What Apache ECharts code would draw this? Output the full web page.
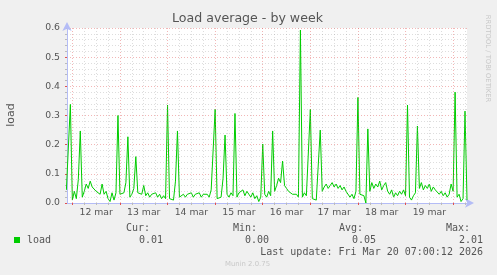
<!DOCTYPE html>
<html><head><meta charset="utf-8">
<script src="https://cdn.jsdelivr.net/npm/echarts@6/dist/echarts.min.js"></script>
<style>html,body{margin:0;padding:0;background:#f0f0f0}#c{width:497px;height:275px}</style>
</head><body><div id="c"></div>
<script>
// hours are counted from 12 mar 00:00, one value per hour
const startHour = -3;
const mar11 = [0.045, 0.045, 0.338];
const mar12 = [0.01, 0.04, 0.015, 0.08, 0.247, 0.02, 0.04, 0.065, 0.05, 0.075, 0.055, 0.06, 0.04, 0.045, 0.03, 0.065, 0.03, 0.04, 0.015, 0.005, 0.035, 0.01, 0.035, 0.30];
const mar13 = [0.03, 0.025, 0.035, 0.07, 0.227, 0.02, 0.03, 0.05, 0.159, 0.035, 0.04, 0.03, 0.06, 0.025, 0.035, 0.02, 0.03, 0.025, 0.035, 0.02, 0.03, 0.015, 0.025, 0.015];
const mar14 = [0.336, 0.015, 0.02, 0.01, 0.075, 0.247, 0.02, 0.025, 0.03, 0.02, 0.03, 0.025, 0.035, 0.02, 0.03, 0.025, 0.035, 0.02, 0.03, 0.025, 0.03, 0.02, 0.045, 0.04];
const mar15 = [0.321, 0.015, 0.01, 0.02, 0.085, 0.233, 0.03, 0.02, 0.035, 0.025, 0.307, 0.02, 0.035, 0.03, 0.045, 0.025, 0.04, 0.03, 0.02, 0.035, 0.015, 0.025, 0.005, 0.02];
const mar16 = [0.202, 0.03, 0.02, 0.04, 0.025, 0.247, 0.04, 0.06, 0.085, 0.07, 0.144, 0.06, 0.05, 0.04, 0.045, 0.03, 0.025, 0.03, 0.02, 0.593, 0.02, 0.035, 0.025, 0.03];
const mar17 = [0.321, 0.015, 0.02, 0.01, 0.015, 0.25, 0.04, 0.055, 0.065, 0.05, 0.06, 0.07, 0.055, 0.065, 0.05, 0.06, 0.045, 0.055, 0.04, 0.04, 0.02, 0.03, 0.015, 0.04];
const mar18 = [0.362, 0.03, 0.035, 0.025, 0.0, 0.254, 0.04, 0.07, 0.05, 0.065, 0.055, 0.075, 0.045, 0.06, 0.07, 0.04, 0.03, 0.045, 0.02, 0.035, 0.025, 0.04, 0.03, 0.045];
const mar19 = [0.025, 0.336, 0.02, 0.01, 0.025, 0.035, 0.264, 0.05, 0.07, 0.045, 0.06, 0.05, 0.065, 0.04, 0.055, 0.045, 0.05, 0.03, 0.04, 0.025, 0.035, 0.02, 0.03, 0.065];
const mar20 = [0.04, 0.38, 0.02, 0.03, 0.005, 0.015, 0.315, 0.01];

const dayLabels = ['12 mar', '13 mar', '14 mar', '15 mar', '16 mar', '17 mar', '18 mar', '19 mar'];
const midnights = [0, 24, 48, 72, 96, 120, 144, 168, 192];
const noons = [12, 36, 60, 84, 108, 132, 156, 180];
const minorHours = [6, 12, 18, 30, 36, 42, 54, 60, 66, 78, 84, 90, 102, 108, 114, 126, 132, 138, 150, 156, 162, 174, 180, 186, 198];
const yTicks = [0, 0.1, 0.2, 0.3, 0.4, 0.5, 0.6];

const legendHeaders = ['Cur:', 'Min:', 'Avg:', 'Max:'];
const legendValues = ['0.01', '0.00', '0.05', '2.01'];
const seriesName = 'load';
const lastUpdate = 'Last update: Fri Mar 20 07:00:12 2026';

const load = [].concat(mar11, mar12, mar13, mar14, mar15, mar16, mar17, mar18, mar19, mar20);
const points = load.map((v, i) => [startHour + i, v]);

const minorColor = 'rgba(150,150,150,0.32)';
const majorColor = 'rgba(225,80,80,0.42)';
const axisColor = '#b4bcf6';
const sans = 'DejaVu Sans';
const mono = 'DejaVu Sans Mono';

const chart = echarts.init(document.getElementById('c'), null, {renderer: 'canvas'});

const headerRight = [150, 257, 363, 470];
const valueRight = [163, 269, 376, 483];
const graphics = [
  {type: 'text', x: 247.5, y: 19, style: {text: 'Load average - by week', fontFamily: sans, fontSize: 12.6, fill: '#555', textAlign: 'center', textVerticalAlign: 'middle'}},
  {type: 'text', x: 10.7, y: 115, rotation: Math.PI / 2, style: {text: 'load', fontFamily: sans, fontSize: 11, fill: '#555', textAlign: 'center', textVerticalAlign: 'middle'}},
  {type: 'text', x: 487.7, y: 58.5, rotation: -Math.PI / 2, style: {text: 'RRDTOOL / TOBI OETIKER', fontFamily: sans, fontSize: 6.8, fill: '#c8c8c8', textAlign: 'center', textVerticalAlign: 'middle'}},
  {type: 'rect', shape: {x: 14, y: 237, width: 6, height: 6}, style: {fill: '#00cc00'}},
  {type: 'text', x: 27, y: 240, style: {text: seriesName, fontFamily: mono, fontSize: 10, fill: '#555', textAlign: 'left', textVerticalAlign: 'middle'}},
  {type: 'text', x: 483, y: 252, style: {text: lastUpdate, fontFamily: mono, fontSize: 10, fill: '#555', textAlign: 'right', textVerticalAlign: 'middle'}},
  {type: 'text', x: 247.5, y: 264, style: {text: 'Munin 2.0.75', fontFamily: sans, fontSize: 6.9, fill: '#c8c8c8', textAlign: 'center', textVerticalAlign: 'middle'}}
];
legendHeaders.forEach((t, i) => {
  graphics.push({type: 'text', x: headerRight[i], y: 228, style: {text: t, fontFamily: mono, fontSize: 10, fill: '#555', textAlign: 'right', textVerticalAlign: 'middle'}});
  graphics.push({type: 'text', x: valueRight[i], y: 240, style: {text: legendValues[i], fontFamily: mono, fontSize: 10, fill: '#555', textAlign: 'right', textVerticalAlign: 'middle'}});
});

const gridLines = [].concat(
  minorHours.map(h => ({xAxis: h, lineStyle: {color: minorColor, type: [1, 2], width: 1}})),
  midnights.map(h => ({xAxis: h, lineStyle: {color: majorColor, type: [1, 2], width: 1}}))
);

chart.setOption({
  backgroundColor: '#f0f0f0',
  animation: false,
  grid: {left: 67, right: 30, top: 28, bottom: 72, show: true, backgroundColor: '#ffffff', borderWidth: 0},
  xAxis: [
    {
      type: 'value', min: -2.7, max: 199, position: 'bottom',
      splitLine: {show: false},
      axisLine: {show: true, onZero: false, lineStyle: {color: axisColor}, symbol: ['none', 'arrow'], symbolSize: [7, 9], symbolOffset: [0, 7]},
      axisTick: {show: true, customValues: midnights, length: 2, lineStyle: {color: '#e05050'}},
      axisLabel: {customValues: noons, formatter: v => dayLabels[Math.round((v - 12) / 24)], color: '#555', fontFamily: sans, fontSize: 9.3, margin: 5}
    },
    {
      type: 'value', min: -2.7, max: 199, position: 'bottom',
      splitLine: {show: false}, axisLine: {show: false, onZero: false},
      axisTick: {show: true, customValues: minorHours, length: 2, lineStyle: {color: '#bbbbbb'}},
      axisLabel: {show: false}
    }
  ],
  yAxis: {
    type: 'value', min: 0, max: 0.6, interval: 0.1,
    axisLine: {show: true, onZero: false, lineStyle: {color: axisColor}, symbol: ['none', 'arrow'], symbolSize: [7, 9], symbolOffset: [0, 6]},
    axisTick: {show: true, length: 2, lineStyle: {color: '#e05050'}},
    minorTick: {show: true, splitNumber: 5, length: 2, lineStyle: {color: '#bbbbbb'}},
    axisLabel: {formatter: v => yTicks.includes(Math.round(v * 10) / 10) ? v.toFixed(1) : '', color: '#555', fontFamily: sans, fontSize: 9.3, margin: 7},
    splitLine: {show: true, lineStyle: {color: majorColor, type: [1, 2], width: 1}},
    minorSplitLine: {show: true, lineStyle: {color: minorColor, type: [1, 2], width: 1}}
  },
  series: [
    {
      type: 'line', data: [], z: 1, silent: true,
      markLine: {silent: true, symbol: ['none', 'none'], label: {show: false}, animation: false, emphasis: {disabled: true}, data: gridLines}
    },
    {
      name: seriesName, type: 'line', data: points, showSymbol: false, z: 3,
      lineStyle: {color: '#00cc00', width: 1}, itemStyle: {color: '#00cc00'}, emphasis: {disabled: true}
    }
  ],
  graphic: graphics
});
</script></body></html>
